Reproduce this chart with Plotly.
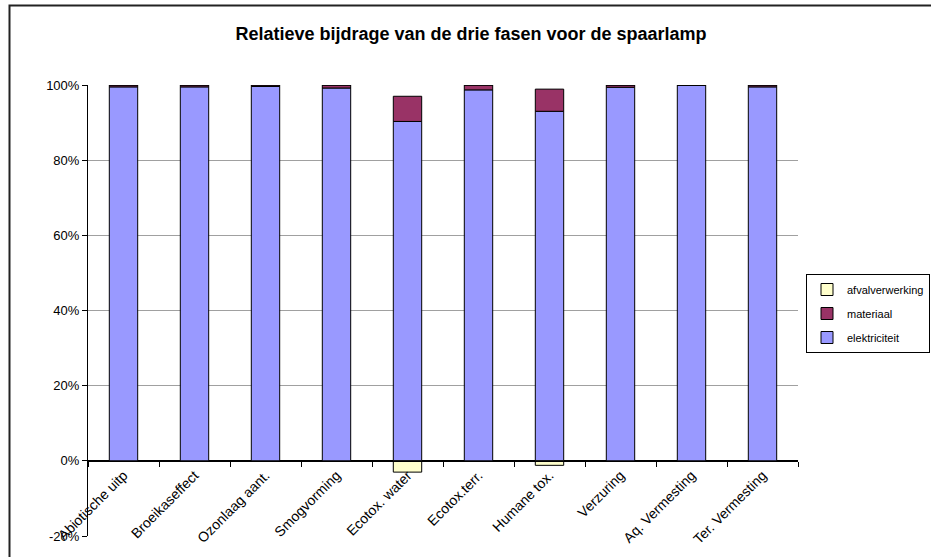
import plotly.graph_objects as go

categories = ["Abiotische uitp", "Broeikaseffect", "Ozonlaag aant.", "Smogvorming",
              "Ecotox. water", "Ecotox.terr.", "Humane tox.", "Verzuring",
              "Aq. Vermesting", "Ter. Vermesting"]
elektriciteit = [99.5, 99.5, 99.6, 99.2, 90.3, 98.7, 93.0, 99.4, 99.9, 99.5]
materiaal = [0.5, 0.5, 0.4, 0.8, 6.7, 1.3, 5.9, 0.6, 0.1, 0.5]
afvalverwerking = [0.0, 0.0, 0.0, 0.0, -3.0, 0.0, -1.2, 0.0, 0.0, 0.0]

y_ticks = [-20, 0, 20, 40, 60, 80, 100]
y_tick_text = ["-20%", "0%", "20%", "40%", "60%", "80%", "100%"]

FONT = "Arial, Liberation Sans, sans-serif"
W, H = 931, 557
ML, MR, MT, MB = 88, 133, 85, 21
plot_w = W - ML - MR
plot_h = H - MT - MB

# (name, values, colour, legend rank)
series = [
    ("elektriciteit", elektriciteit, "#9999FF", 3),
    ("materiaal", materiaal, "#993366", 2),
    ("afvalverwerking", afvalverwerking, "#FFFFCC", 1),
]

fig = go.Figure()
for name, values, color, rank in series:
    fig.add_trace(go.Bar(x=categories, y=values, name=name, legendgroup=name,
                         legendrank=rank,
                         marker=dict(color=color, line=dict(color="#000000", width=1))))

y_min, y_max = -20, 100
zero_frac = (0 - y_min) / (y_max - y_min)

fig.update_layout(
    width=W, height=H,
    margin=dict(l=ML, r=MR, t=MT, b=MB, autoexpand=False),
    paper_bgcolor="white", plot_bgcolor="white",
    barmode="relative", bargap=0.6,
    font=dict(family=FONT, color="#000000", size=13),
    title=dict(text="<b>Relatieve bijdrage van de drie fasen voor de spaarlamp</b>",
               x=471 / W, xanchor="center", y=1 - 34 / H, yanchor="middle",
               xref="container", yref="container",
               font=dict(family=FONT, size=18, color="#000000")),
    xaxis=dict(type="category", anchor="free", position=zero_frac,
               showline=True, linecolor="#000000", linewidth=1,
               ticks="outside", tickson="boundaries", ticklen=5, tickcolor="#000000",
               tickangle=-45, tickfont=dict(family=FONT, size=14),
               showgrid=False, zeroline=False),
    yaxis=dict(range=[y_min, y_max], tickvals=y_ticks, ticktext=y_tick_text,
               showline=True, linecolor="#000000", linewidth=1,
               ticks="outside", ticklen=5, tickcolor="#000000",
               showgrid=True, gridcolor="#a0a0a0", gridwidth=1,
               zeroline=True, zerolinecolor="#000000", zerolinewidth=1,
               tickfont=dict(family=FONT, size=13)),
    legend=dict(x=(806 - ML) / plot_w, xanchor="left",
                y=1 - (274 - MT) / plot_h, yanchor="top",
                traceorder="grouped", tracegroupgap=5,
                bordercolor="#000000", borderwidth=1,
                bgcolor="white", font=dict(family=FONT, size=11)),
    showlegend=True,
)

# outer chart frame (left and top edges visible)
fig.add_shape(type="rect", xref="paper", yref="paper",
              x0=(9.5 - ML) / plot_w, x1=(W + 20 - ML) / plot_w,
              y0=-(MB + 20) / plot_h, y1=1 + (MT - 5.5) / plot_h,
              line=dict(color="#222222", width=2), fillcolor="rgba(0,0,0,0)",
              layer="below")

fig.write_html("out.html")
